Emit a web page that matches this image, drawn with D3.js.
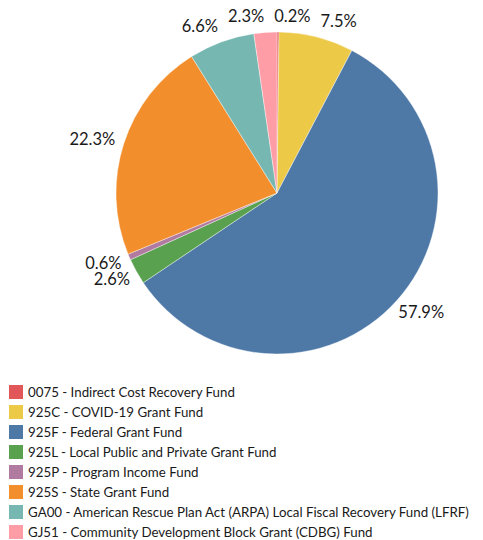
<!DOCTYPE html>
<html><head><meta charset="utf-8">
<script src="https://cdn.jsdelivr.net/npm/d3@7"></script>
<style>body{margin:0;background:#fff}svg{display:block}</style>
</head><body>
<script>
const categories = ["0075 - Indirect Cost Recovery Fund","925C - COVID-19 Grant Fund","925F - Federal Grant Fund","925L - Local Public and Private Grant Fund","925P - Program Income Fund","925S - State Grant Fund","GA00 - American Rescue Plan Act (ARPA) Local Fiscal Recovery Fund (LFRF)","GJ51 - Community Development Block Grant (CDBG) Fund"];
const values = [0.2, 7.5, 57.9, 2.6, 0.6, 22.3, 6.6, 2.3];
const colors = ["#e15759","#edc948","#4e79a7","#59a14f","#b07aa1","#f28e2b","#76b7b2","#ff9da7"];

const W = 483, H = 540, cx = 277, cy = 193, R = 161;
const svg = d3.select("body").append("svg").attr("width", W).attr("height", H);
const color = d3.scaleOrdinal().domain(categories).range(colors);
const pie = d3.pie().sort(null).value(d => d.v);
const data = categories.map((c, i) => ({c, v: values[i]}));
const arcs = pie(data);
const arc = d3.arc().innerRadius(0).outerRadius(R);
const g = svg.append("g").attr("transform", `translate(${cx},${cy})`);
g.selectAll("path").data(arcs).join("path")
  .attr("d", arc).attr("fill", d => color(d.data.c))
  .attr("stroke", "#fff").attr("stroke-width", 0.4);

// labels
const fs = 16.5;
const lbl = g.selectAll("text.l").data(arcs).join("text").attr("class","l")
  .attr("font-family", "Lato, 'Open Sans', sans-serif").attr("font-size", fs)
  .attr("fill", "#1a1a1a").attr("text-anchor", "middle").attr("dominant-baseline", "central")
  .text(d => d.data.v.toFixed(1) + "%");
const boxes = [];
lbl.each(function(d) {
  const bb = this.getBBox();
  const a = (d.startAngle + d.endAngle) / 2;
  const s = Math.sin(a), c = -Math.cos(a);
  const hw = bb.width / 2, hh = 6.5, rr = R + 10;
  boxes.push({el: this, x: s * rr + hw * s, y: c * rr + hh * c, hw, hh, side: Math.abs(s) > 0.7});
});
const pad = 10;
for (let it = 0; it < 200; it++) {
  for (let i = 0; i < boxes.length; i++) for (let j = i + 1; j < boxes.length; j++) {
    const a = boxes[i], b = boxes[j];
    if (a.side && b.side) {
      const oy = a.hh + b.hh + 1 - Math.abs(a.y - b.y);
      const ox = a.hw + b.hw - Math.abs(a.x - b.x);
      if (ox > 0 && oy > 0) {
        const dir = a.y < b.y ? -1 : 1;
        a.y += dir * oy * 0.25; b.y -= dir * oy * 0.25;
      }
      continue;
    }
    const ox = a.hw + b.hw + pad - Math.abs(a.x - b.x);
    const oy = a.hh + b.hh - Math.abs(a.y - b.y);
    if (ox > 0 && oy > 0) {
      const dir = a.x < b.x ? -1 : 1;
      a.x += dir * ox * 0.25; b.x -= dir * ox * 0.25;
    }
  }
}
boxes.forEach(b => d3.select(b.el).attr("x", b.x).attr("y", b.y));

// legend
const lg = svg.append("g").attr("transform", "translate(9,385)");
const rows = lg.selectAll("g").data(categories).join("g")
  .attr("transform", (d, i) => `translate(0,${i * 20})`);
rows.append("rect").attr("width", 14).attr("height", 14).attr("fill", d => color(d));
rows.append("text").attr("x", 19).attr("y", 7).attr("dominant-baseline", "central")
  .attr("font-family", "Lato, 'Open Sans', sans-serif").attr("font-size", 13.3).attr("fill", "#1a1a1a")
  .text(d => d);
</script>
</body></html>
